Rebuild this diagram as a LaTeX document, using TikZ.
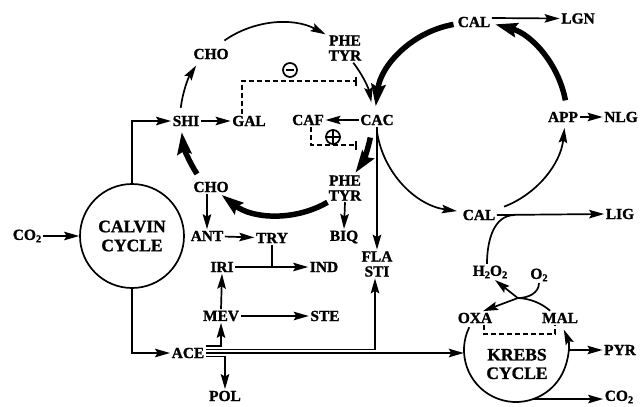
\documentclass[tikz,border=0pt]{standalone}
\usepackage{fontspec}
\setmainfont{Liberation Serif}[BoldFeatures={FakeBold=1.2}]
\usetikzlibrary{arrows.meta}
\newcommand{\lowsub}[1]{\raisebox{-0.35ex}{\fontsize{10.5}{10.5}\selectfont #1}}
\begin{document}
\begin{tikzpicture}[x=1pt,y=1pt,
  lbl/.style={font=\fontsize{15.4}{15}\selectfont\bfseries, inner sep=1.5pt, align=center},
  cyc/.style={circle, draw, line width=1.7pt, minimum size=104pt, inner sep=0pt, align=center, font=\fontsize{17.5}{19}\selectfont\bfseries},
  cyctext/.style={align=center, inner sep=0pt, font=\fontsize{17.5}{18.5}\selectfont\bfseries},
  arr/.style={line width=1.7pt, -{Stealth[length=15pt,width=8.5pt,inset=2.5pt]}},
  ln/.style={line width=1.7pt},
  thk/.style={line width=5.5pt, -{Stealth[length=22pt,width=14pt,inset=3pt]}},
  dsh/.style={line width=1.7pt, dash pattern=on 5pt off 3pt, -{Bar[width=9pt,line width=1.7pt]}},
  sign/.style={circle, draw, line width=1.7pt, minimum size=14pt, inner sep=0pt}
]
\useasboundingbox (0,0) rectangle (640,-407);
\clip (0,0) rectangle (640,-407);

% centres of the rings
\coordinate (c1) at (280,-120);
\coordinate (c2) at (470,-118);
\coordinate (c3) at (516,-350);

% nodes
\node[lbl] (co2a) at (27,-236) {CO\lowsub{2}};
\node[cyc] (calvin) at (132,-236) {CALVIN\\CYCLE};
\node[lbl] (shi) at (186,-121) {SHI};
\node[lbl] (gal) at (249,-121) {GAL};
\node[lbl] (choT) at (211,-54) {CHO};
\node[lbl] (pheT) at (345,-48) {PHE\\TYR};
\node[lbl] (cac) at (377,-120) {CAC};
\node[lbl] (caf) at (308,-120) {CAF};
\node[lbl] (calT) at (474,-22) {CAL};
\node[lbl] (lgn) at (578,-18.5) {LGN};
\node[lbl] (app) at (563,-117) {APP};
\node[lbl] (nlg) at (621,-117) {NLG};
\node[lbl] (pheB) at (345,-188) {PHE\\TYR};
\node[lbl] (choB) at (211,-187) {CHO};
\node[lbl] (ant) at (207,-236) {ANT};
\node[lbl] (try) at (272,-238) {TRY};
\node[lbl] (biq) at (344,-237) {BIQ};
\node[lbl] (fla) at (377,-264) {FLA\\STI};
\node[lbl] (iri) at (222,-267) {IRI};
\node[lbl] (ind) at (324,-267) {IND};
\node[lbl] (mev) at (221,-316) {MEV};
\node[lbl] (ste) at (325,-316) {STE};
\node[lbl] (ace) at (188,-353) {ACE};
\node[lbl] (pol) at (225,-396) {POL};
\node[lbl] (calM) at (479,-215) {CAL};
\node[lbl] (lig) at (620,-214) {LIG};
\node[lbl] (h2o2) at (490,-272) {H\lowsub{2}O\lowsub{2}};
\node[lbl] (o2) at (539,-275) {O\lowsub{2}};
\node[lbl] (oxa) at (475,-318) {OXA};
\node[lbl] (mal) at (560,-318) {MAL};
\node[circle, minimum size=104pt, inner sep=0pt] (krebs) at (c3) {};
\node[cyctext] (krebstxt) at (517,-364) {KREBS\\CYCLE};
\node[lbl] (pyr) at (620,-350) {PYR};
\node[lbl] (co2b) at (619,-397) {CO\lowsub{2}};
\node[sign] (minus) at (290,-70) {};
\node[sign] (plus) at (333,-137) {};

% Calvin cycle links
\draw[arr] (co2a.east) -- (co2a.east -| calvin.west);
\draw[arr] (calvin.north) |- (shi.west);
\draw[arr] (calvin.south) |- (ace.west);

% shikimate ring
\draw[arr] (shi) -- (gal);
\draw[arr] ([shift={(173:100)}]c1) arc[start angle=173, end angle=147, radius=100];
\draw[arr] ([shift={(125:97)}]c1) arc[start angle=125, end angle=62, radius=97];
\draw[arr] ([shift={(38:93)}]c1) arc[start angle=38, end angle=11, radius=93];
\draw[thk] ([shift={(-11:92)}]c1) arc[start angle=-11, end angle=-35, radius=92];
\draw[thk] ([shift={(-60:95)}]c1) arc[start angle=-60, end angle=-128, radius=95];
\draw[thk] ([shift={(-147:99)}]c1) arc[start angle=-147, end angle=-173, radius=99];

% phenylpropanoid ring
\draw[thk] ([shift={(100:95)}]c2) arc[start angle=100, end angle=173, radius=95];
\draw[thk] ([shift={(10.5:97)}]c2) arc[start angle=10.5, end angle=75, radius=97];
\draw[arr] ([shift={(189:94)}]c2) arc[start angle=189, end angle=262, radius=94];
\draw[arr] ([shift={(-69:95)}]c2) arc[start angle=-69, end angle=-6, radius=95];
\draw[arr] ([yshift=4pt]calT.east) -- (lgn.west);
\draw[arr] (app) -- (nlg);
\draw[arr] (cac) -- (caf);
\draw[arr] (cac.south) -- (fla.north);
\draw[arr] (calM.east) -- (lig.west);

% side branches
\draw[arr] (pheB.south) -- (biq.north);
\draw[arr] (ant.north |- choB.south) -- (ant.north);
\draw[arr] (ant) -- (try);
\draw[arr] (iri.east) -- (ind.west);
\draw[ln] (try.south) -- (try.south |- iri.east);
\draw[arr] (mev.north) -- (iri.south);
\draw[arr] (mev) -- (ste);

% acetate lines
\draw[arr] ([yshift=7pt]ace.east) -| (mev.south);
\draw[arr] ([yshift=3.5pt]ace.east) -| ([xshift=-2pt]fla.south);
\draw[arr] (ace.east) -- (ace.east -| krebs.west);
\draw[arr] ([yshift=-3.5pt]ace.east) -| (pol.north);

% regulation
\draw[dsh] ([xshift=-7pt]gal.north) |- (357,-81);
\draw[dsh] ([xshift=3pt]caf.south) |- (357,-145);
\draw[line width=1.5pt] ([xshift=-4pt]minus.center) -- ([xshift=4pt]minus.center);
\draw[line width=1.5pt] (plus.north) -- (plus.south) (plus.west) -- (plus.east);

% Krebs cycle
\draw[arr] ([shift={(154:52)}]c3) arc[start angle=154, end angle=383, radius=52];
\draw[ln] ([shift={(49:52)}]c3) arc[start angle=49, end angle=88, radius=52] coordinate (J);
\draw[arr] (J) -- ([xshift=8pt]oxa.north);
\draw[arr] (J) -- ([xshift=5pt]h2o2.south);
\draw[ln] (o2.south) to[out=-90, in=0] (J);
\coordinate (K) at (515,-215);
\draw[ln] ([xshift=-3pt]h2o2.north) to[out=90, in=180] (K);
\draw[ln, dash pattern=on 5pt off 3pt] ([xshift=9pt]oxa.south) -- ++(0,-9) -| ([xshift=-5pt]mal.south);
\draw[arr] (krebs.east) -- (pyr.west);
\draw[arr] (krebs.290) -- (krebs.290 -| co2b.west);
\end{tikzpicture}
\end{document}
